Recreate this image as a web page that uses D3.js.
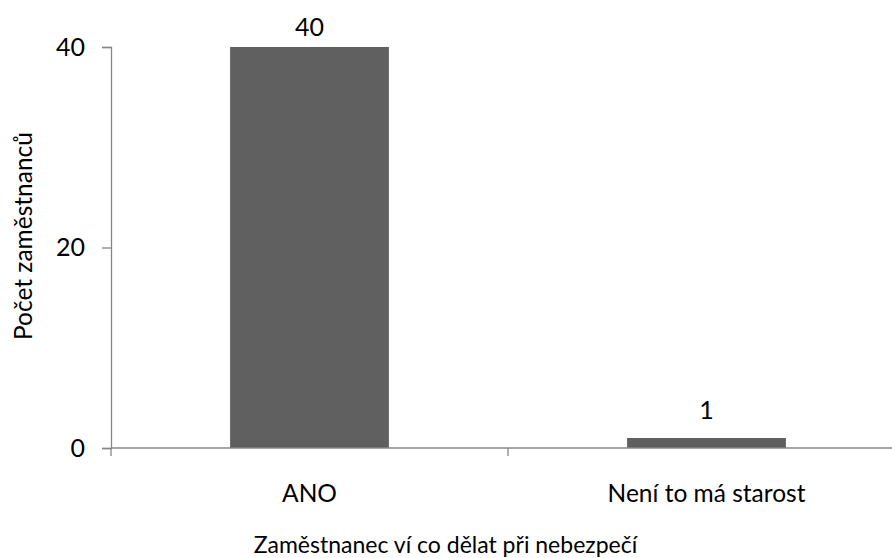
<!DOCTYPE html>
<html>
<head>
<meta charset="utf-8">
<script src="https://cdn.jsdelivr.net/npm/d3@7"></script>
<style>
  html, body { margin: 0; padding: 0; background: #fff; }
  svg { display: block; font-family: Lato, "Open Sans", sans-serif; }
</style>
</head>
<body>
<svg id="chart" width="892" height="558"></svg>
<script>
// Odpovědi zaměstnanců
const categories = ["ANO", "Není to má starost"];
const counts = [40, 1];
const yTicks = [0, 20, 40];

const xTitle = "Zaměstnanec ví co dělat při nebezpečí";
const yTitle = "Počet zaměstnanců";

const svg = d3.select("#chart");
const margin = { left: 111, top: 47, right: -13, bottom: 110 };
const W = 892, H = 558;

const x = d3.scaleBand()
  .domain(categories)
  .range([margin.left, W - margin.right])
  .paddingInner(0.6)
  .paddingOuter(0.3);

const y = d3.scaleLinear()
  .domain([0, 40])
  .range([H - margin.bottom, margin.top]);

const axisColor = "#868686";
const font = "Lato, 'Open Sans', sans-serif";

// sloupce
svg.append("g").selectAll("rect")
  .data(categories)
  .join("rect")
  .attr("x", d => x(d))
  .attr("width", x.bandwidth())
  .attr("y", (d, i) => y(counts[i]))
  .attr("height", (d, i) => y(0) - y(counts[i]))
  .attr("fill", "#606060");

// popisky hodnot, drženy uvnitř oblasti grafu
svg.append("g").selectAll("text")
  .data(categories)
  .join("text")
  .attr("x", d => x(d) + x.bandwidth() / 2)
  .attr("y", (d, i) => Math.max(y(counts[i]) - 19, 36))
  .attr("text-anchor", "middle")
  .attr("font-size", 25)
  .attr("fill", "#000")
  .text((d, i) => counts[i]);

// osa y
const yAxis = svg.append("g")
  .attr("transform", `translate(${margin.left},0)`)
  .call(d3.axisLeft(y).tickValues(yTicks).tickSize(9).tickPadding(17));
yAxis.select(".domain").attr("stroke", axisColor).attr("stroke-width", 1.3);
yAxis.selectAll(".tick line").attr("stroke", axisColor).attr("stroke-width", 1.3);
yAxis.selectAll(".tick text").attr("font-size", 25).attr("fill", "#000")
  .attr("font-family", font);

// osa x se značkami mezi kategoriemi
const [r0, r1] = x.range();
const boundaries = [r0, (r0 + r1) / 2, r1];
const xg = svg.append("g").attr("transform", `translate(0,${y(0)})`);
xg.append("line")
  .attr("x1", r0).attr("x2", r1)
  .attr("stroke", axisColor).attr("stroke-width", 1.3);
xg.selectAll("line.tick")
  .data(boundaries)
  .join("line")
  .attr("class", "tick")
  .attr("x1", d => d).attr("x2", d => d)
  .attr("y1", 0).attr("y2", 8)
  .attr("stroke", axisColor).attr("stroke-width", 1.3);
xg.selectAll("text")
  .data(categories)
  .join("text")
  .attr("x", d => x(d) + x.bandwidth() / 2)
  .attr("y", 54)
  .attr("text-anchor", "middle")
  .attr("font-size", 24.5)
  .attr("fill", "#000")
  .text(d => d);

// názvy os
svg.append("text")
  .attr("x", 445.5)
  .attr("y", 553)
  .attr("text-anchor", "middle")
  .attr("font-size", 23)
  .attr("fill", "#000")
  .text(xTitle);

svg.append("text")
  .attr("transform", `translate(32,236) rotate(-90)`)
  .attr("text-anchor", "middle")
  .attr("font-size", 24.5)
  .attr("fill", "#000")
  .text(yTitle);
</script>
</body>
</html>
